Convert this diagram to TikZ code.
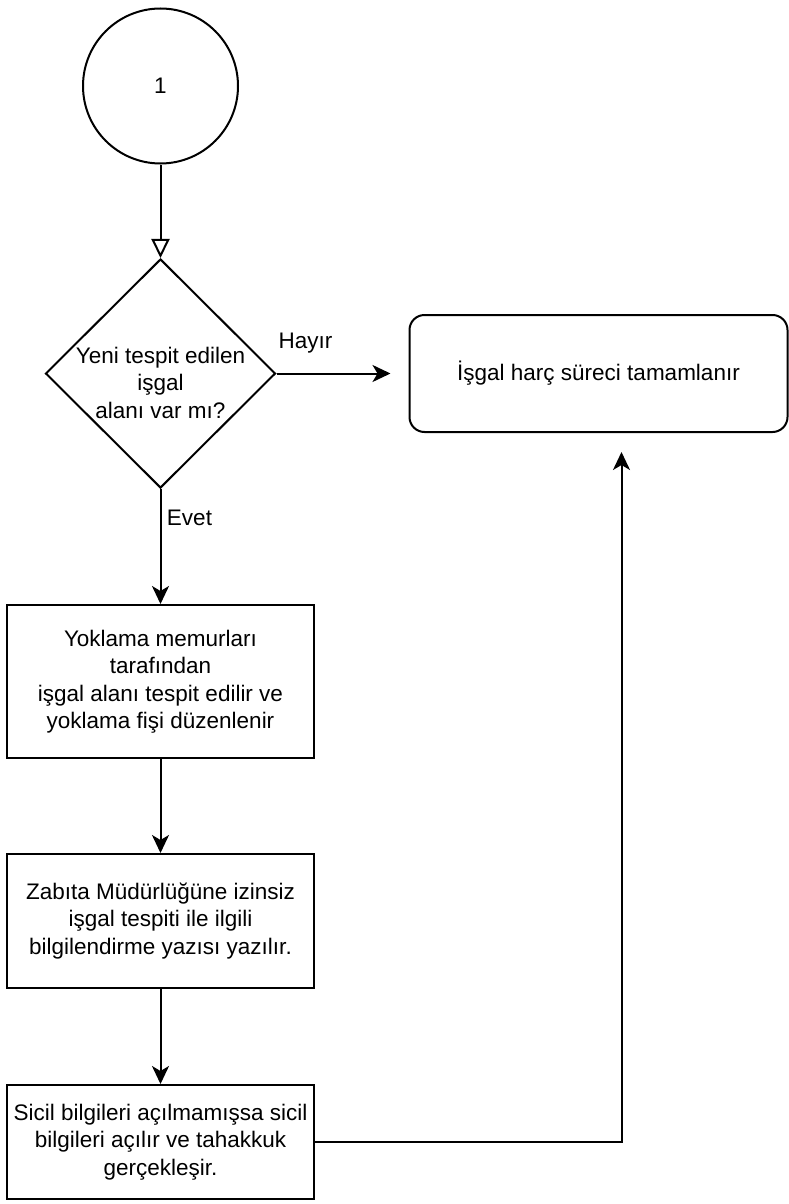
\documentclass[tikz,border=0pt]{standalone}
\usepackage{fontspec}
\setmainfont{Liberation Sans}
\usetikzlibrary{shapes.geometric, arrows.meta, positioning}

\begin{document}
\begin{tikzpicture}[x=1pt, y=1pt, on grid, line width=2pt,
        font=\fontsize{22.5}{27.5}\selectfont,
        box/.style={draw, rectangle, minimum width=307pt, align=center, inner sep=0pt},
        arr/.style={-{Stealth[length=18pt, width=17pt, inset=5pt]}}]
        \useasboundingbox (0,0) rectangle (789,-1204);
        \node[circle, draw, minimum size=155pt, inner sep=0pt] (start) at (160.5,-86) {1};
        \node[diamond, draw, minimum width=230pt, minimum height=229pt, inner sep=0pt,
              label={[yshift=-9pt, align=center]center:Yeni tespit edilen\\işgal\\alanı var mı?}]
                                          (dec)     [below=287.5pt of start] {};
        \node[draw, rounded corners=15pt, minimum width=378pt, minimum height=117pt]
                                          (done)    [right=438pt of dec]     {İşgal harç süreci tamamlanır};
        \node[box, minimum height=153pt]  (yoklama) [below=308pt of dec]
              {Yoklama memurları\\tarafından\\işgal alanı tespit edilir ve\\yoklama fişi düzenlenir};
        \node[box, minimum height=134pt]  (zabita)  [below=239.5pt of yoklama]
              {Zabıta Müdürlüğüne izinsiz\\işgal tespiti ile ilgili\\bilgilendirme yazısı yazılır.};
        \node[box, minimum height=114pt]  (sicil)   [below=221pt of zabita]
              {Sicil bilgileri açılmamışsa sicil\\bilgileri açılır ve tahakkuk\\gerçekleşir.};
        \draw[-{Triangle[open, length=19pt, width=18pt]}] (start) -- (dec);
        \draw[arr, shorten >=18pt] (dec.east) -- node[pos=0.22, yshift=30pt] {Hayır} (done.west);
        \draw[arr] (dec.south) -- node[pos=0.25, xshift=29pt] {Evet} (yoklama.north);
        \draw[arr] (yoklama) -- (zabita);
        \draw[arr] (zabita) -- (sicil);
        \draw[arr, shorten >=19pt] (sicil.east) -| ([xshift=23pt]done.south);
\end{tikzpicture}
\end{document}
